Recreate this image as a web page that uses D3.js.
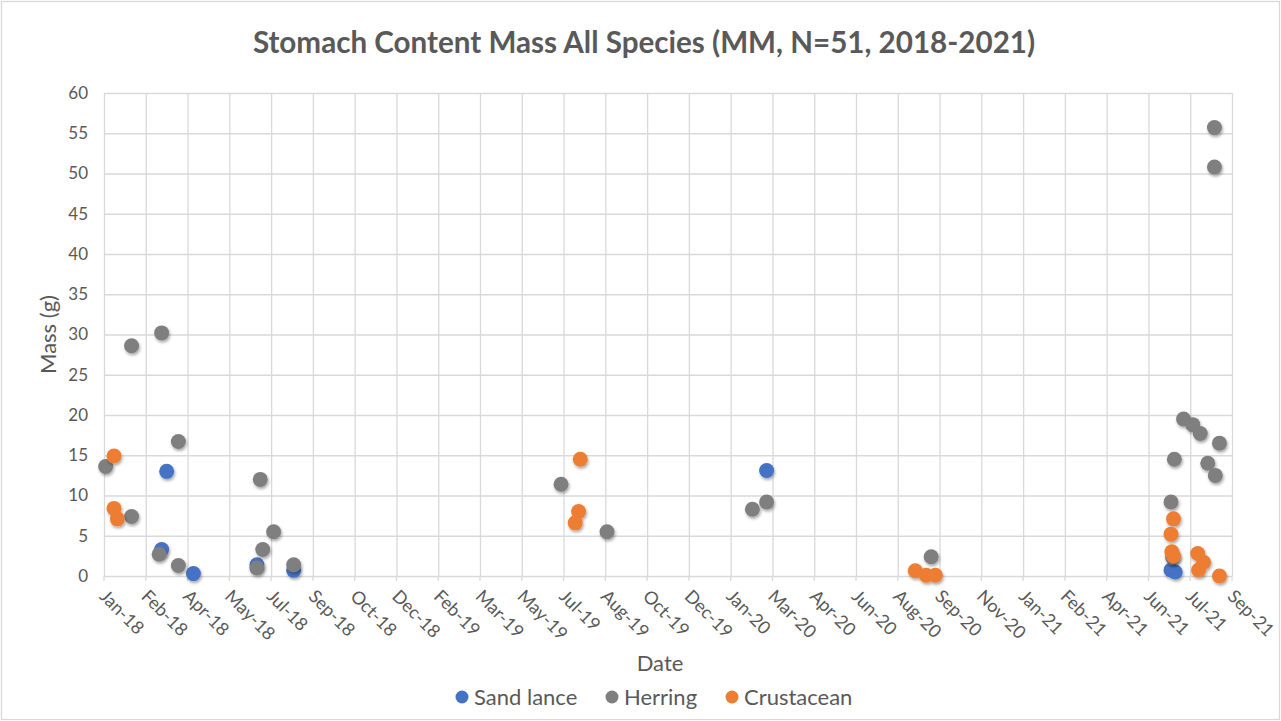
<!DOCTYPE html>
<html>
<head>
<meta charset="utf-8">
<script src="https://cdn.jsdelivr.net/npm/d3@7/dist/d3.min.js"></script>
<style>
  html, body { margin: 0; padding: 0; background: #ffffff; }
  svg { display: block; font-family: Lato, 'Open Sans', sans-serif; }
</style>
</head>
<body>
<div id="chart"></div>
<script>
// Stomach content mass scatter
const title = 'Stomach Content Mass All Species (MM, N=51, 2018-2021)'
const seriesNames = ['Sand lance', 'Herring', 'Crustacean']
const seriesColors = ['#4472C4', '#7F7F7F', '#ED7D31']

const sandLance = [
  ['2018-03-17', 13.0], ['2018-03-11', 3.3], ['2018-04-18', 0.3],
  ['2018-07-03', 1.4], ['2018-08-16', 0.7], ['2020-03-04', 13.1],
  ['2021-07-01', 0.75], ['2021-07-06', 0.5]
]

const herring = [
  ['2018-01-03', 13.6], ['2018-02-03', 28.6], ['2018-02-03', 7.4],
  ['2018-03-11', 30.2], ['2018-03-08', 2.7], ['2018-03-31', 16.7],
  ['2018-03-31', 1.3], ['2018-07-07', 12.0], ['2018-07-03', 1.0],
  ['2018-07-10', 3.3], ['2018-07-23', 5.5], ['2018-08-16', 1.4],
  ['2019-07-02', 11.4], ['2019-08-26', 5.5], ['2020-03-04', 9.2],
  ['2020-02-16', 8.3], ['2020-09-17', 2.4], ['2021-07-16', 19.5],
  ['2021-07-27', 18.8], ['2021-08-05', 17.7], ['2021-08-28', 16.5],
  ['2021-07-05', 14.5], ['2021-08-14', 14.0], ['2021-08-23', 12.5],
  ['2021-07-01', 9.2], ['2021-07-03', 2.3], ['2021-08-22', 55.7],
  ['2021-08-22', 50.8]
]

const crustacean = [
  ['2018-01-13', 14.9], ['2018-01-13', 8.4], ['2018-01-17', 7.1],
  ['2019-07-25', 14.5], ['2019-07-23', 8.0], ['2019-07-19', 6.6],
  ['2020-08-29', 0.66], ['2020-09-11', 0.1], ['2020-09-22', 0.1],
  ['2021-07-04', 7.1], ['2021-07-01', 5.2], ['2021-07-02', 3.0],
  ['2021-07-04', 2.5], ['2021-08-02', 2.8], ['2021-08-09', 1.7],
  ['2021-08-03', 0.75], ['2021-08-28', 0.0]
]

// axis: Excel date axis, Jan-18 start, major unit 50 days, 27 steps
const xStart = '2018-01-01'
const xStepDays = 50
const xSteps = 27
const yTicks = [0, 5, 10, 15, 20, 25, 30, 35, 40, 45, 50, 55, 60]

const W = 1281, H = 721
const margin = { top: 93, right: 49, bottom: 145, left: 104 }
const innerW = W - margin.left - margin.right
const innerH = H - margin.top - margin.bottom
const textColor = '#595959'
const gridColor = '#d9d9d9'

const parse = d3.utcParse('%Y-%m-%d')
const fmt = d3.utcFormat('%b-%y')
const t0 = parse(xStart)
const xTickDates = d3.range(0, xSteps + 1).map(i => d3.utcDay.offset(t0, i * xStepDays))

const x = d3.scaleUtc().domain([t0, xTickDates[xTickDates.length - 1]]).range([0, innerW])
const y = d3.scaleLinear().domain([0, 60]).range([innerH, 0])

const svg = d3.select('#chart').append('svg').attr('width', W).attr('height', H)

const defs = svg.append('defs')
const shadow = defs.append('filter').attr('id', 'shadow')
  .attr('x', '-50%').attr('y', '-50%').attr('width', '200%').attr('height', '200%')
shadow.append('feDropShadow').attr('dx', 1).attr('dy', 2).attr('stdDeviation', 1.6)
  .attr('flood-color', '#000').attr('flood-opacity', 0.35)

// chart area border
svg.append('rect').attr('x', 1.5).attr('y', 1.5).attr('width', W - 3).attr('height', H - 3)
  .attr('fill', '#fff').attr('stroke', gridColor).attr('stroke-width', 1.3)

svg.append('text')
  .attr('x', 644).attr('y', 53)
  .attr('text-anchor', 'middle')
  .attr('font-size', 29.6).attr('font-weight', 700)
  .attr('fill', textColor)
  .text(title)

const g = svg.append('g').attr('transform', `translate(${margin.left},${margin.top})`)

// horizontal gridlines + y labels
const yAxis = d3.axisLeft(y).tickValues(yTicks).tickSize(-innerW).tickPadding(16)
const gy = g.append('g').call(yAxis)
gy.select('.domain').remove()
gy.selectAll('line').attr('stroke', gridColor).attr('stroke-width', 1.3)
gy.selectAll('text').attr('fill', textColor).attr('font-size', 17)
  .attr('font-family', 'Lato, sans-serif')

// vertical gridlines
const xAxis = d3.axisBottom(x).tickValues(xTickDates).tickSize(-innerH).tickFormat('')
const gx = g.append('g').attr('transform', `translate(0,${innerH})`).call(xAxis)
gx.select('.domain').remove()
gx.selectAll('line').attr('stroke', gridColor).attr('stroke-width', 1.3)

// small tick marks below the axis
g.append('g').selectAll('line').data(xTickDates).join('line')
  .attr('x1', d => x(d)).attr('x2', d => x(d))
  .attr('y1', innerH).attr('y2', innerH + 5)
  .attr('stroke', gridColor).attr('stroke-width', 1.3)

// rotated date labels
g.append('g').selectAll('text').data(xTickDates).join('text')
  .attr('transform', d => `translate(${x(d) - 1},${innerH + 17}) rotate(45)`)
  .attr('dy', '0.35em')
  .attr('font-size', 18)
  .attr('fill', textColor)
  .text(d => fmt(d))

// axis titles
svg.append('text')
  .attr('transform', `translate(56,${margin.top + innerH / 2}) rotate(-90)`)
  .attr('text-anchor', 'middle')
  .attr('font-size', 22).attr('fill', textColor)
  .text('Mass (g)')

svg.append('text')
  .attr('x', 660).attr('y', 671)
  .attr('text-anchor', 'middle')
  .attr('font-size', 22).attr('fill', textColor)
  .text('Date')

// points, drawn in series order
const allSeries = [sandLance, herring, crustacean]
allSeries.forEach((rows, i) => {
  g.append('g').attr('filter', 'url(#shadow)')
    .selectAll('circle').data(rows).join('circle')
    .attr('cx', d => x(parse(d[0])))
    .attr('cy', d => y(d[1]))
    .attr('r', 7.5)
    .attr('fill', seriesColors[i])
})

// legend
const legendX = [462, 612, 732]
const legend = svg.append('g')
seriesNames.forEach((name, i) => {
  legend.append('circle')
    .attr('cx', legendX[i]).attr('cy', 697).attr('r', 6.5)
    .attr('fill', seriesColors[i])
  legend.append('text')
    .attr('x', legendX[i] + 12).attr('y', 705)
    .attr('font-size', 22).attr('fill', textColor)
    .text(name)
})
</script>
</body>
</html>
